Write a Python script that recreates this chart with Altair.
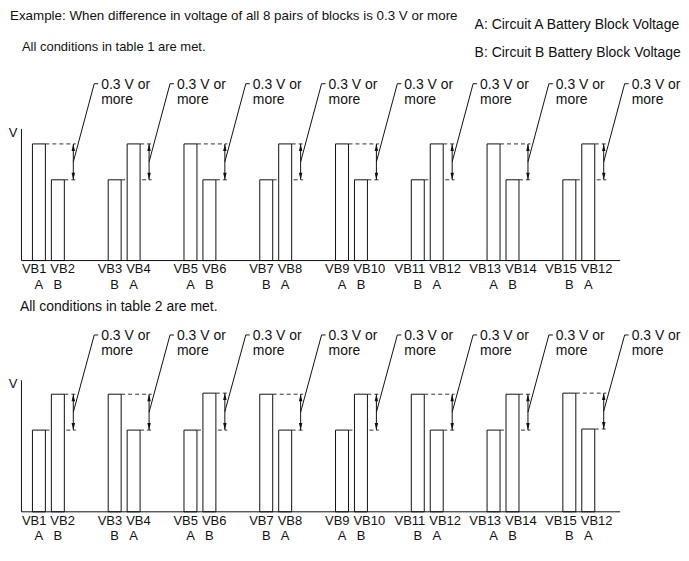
import altair as alt
import pandas as pd

# ---------------- data ----------------
FIRST_BLOCK = ["VB1", "VB3", "VB5", "VB7", "VB9", "VB11", "VB13", "VB15"]
SECOND_BLOCK = ["VB2", "VB4", "VB6", "VB8", "VB10", "VB12", "VB14", "VB12"]
FIRST_CIRCUIT = ["A", "B", "A", "B", "A", "B", "A", "B"]
SECOND_CIRCUIT = ["B", "A", "B", "A", "B", "A", "B", "A"]

# table 1: circuit A block is the higher one of every pair
T1_FIRST_V = [0.975, 0.675, 0.975, 0.675, 0.975, 0.675, 0.975, 0.675]
T1_SECOND_V = [0.675, 0.975, 0.675, 0.975, 0.675, 0.975, 0.675, 0.975]
# table 2: circuit B block is the higher one of every pair
T2_FIRST_V = [0.683, 0.983, 0.683, 0.983, 0.683, 0.983, 0.683, 0.992]
T2_SECOND_V = [0.983, 0.683, 0.992, 0.683, 0.983, 0.683, 0.983, 0.692]

TITLE = "Example: When difference in voltage of all 8 pairs of blocks is 0.3 V or more"
LEGEND_A = "A: Circuit A Battery Block Voltage"
LEGEND_B = "B: Circuit B Battery Block Voltage"
COND_1 = "All conditions in table 1 are met."
COND_2 = "All conditions in table 2 are met."
DIFF_LINES = ["0.3 V or", "more"]
Y_LABEL = "V"

# ---------------- layout constants ----------------
PITCH = 76.0          # px per pair
PX = 1.0 / PITCH      # x units per px
ORIGIN = 30.5         # page px of first pair start
W = 673
PX_PER_V = 120.0
BAR_W = 13 * PX
SECOND_OFF = 19 * PX
ARROW_OFF = 41 * PX
DASH_END = 43.5 * PX
LEAD_TOP = 62 * PX
TICK_END = 66 * PX
TEXT_OFF = 69 * PX
LEAD_Y = 1.478
DIFF_Y = [1.437, 1.312]
AXIS_X = (19.5 - ORIGIN) * PX
AXIS_END = (620 - ORIGIN) * PX
AXIS_TOP = 1.1
XDOM = [(8 - ORIGIN) * PX, (8 + W - ORIGIN) * PX]
HEAD_UP = "M0,-1L0.5,1L-0.5,1Z"
HEAD_DOWN = "M0,1L0.5,-1L-0.5,-1Z"

FONT = "Liberation Sans"
INK = "#111"


def xpx(page_x):
    return (page_x - ORIGIN) * PX


def panel(first_v, second_v, height, ytop, header, cond_text, cond_y, cond_size, cond_x):
    ybot = ytop - height / PX_PER_V
    xs = alt.Scale(domain=XDOM, nice=False, zero=False)
    ys = alt.Scale(domain=[ybot, ytop], nice=False, zero=False)
    X = lambda f="x": alt.X(f + ":Q", scale=xs, axis=None)
    Y = lambda f="y": alt.Y(f + ":Q", scale=ys, axis=None)

    bars, dashes, arrows, heads, leads, ticks, dtext, vb, circ = ([] for _ in range(9))
    for p in range(8):
        v1, v2 = first_v[p], second_v[p]
        for s, (v, blk, cir) in enumerate([(v1, FIRST_BLOCK[p], FIRST_CIRCUIT[p]),
                                            (v2, SECOND_BLOCK[p], SECOND_CIRCUIT[p])]):
            x0 = p + s * SECOND_OFF
            bars.append(dict(x=x0, x2=x0 + BAR_W, y=0, y2=v))
            dashes.append(dict(x=x0 + BAR_W, x2=p + DASH_END, y=v))
            circ.append(dict(x=x0 + BAR_W / 2, y=-0.238, t=cir))
            vb.append(dict(x=p + BAR_W + 3 * PX, y=-0.108, t=blk, side=s))
        hi, lo = max(v1, v2), min(v1, v2)
        ax = p + ARROW_OFF
        arrows.append(dict(x=ax, y=lo, y2=hi))
        heads.append(dict(x=ax, y=hi - 3.5 / PX_PER_V, shape=HEAD_UP))
        heads.append(dict(x=ax, y=lo + 3.5 / PX_PER_V, shape=HEAD_DOWN))
        leads.append(dict(x=ax, y=(hi + lo) / 2, x2=p + LEAD_TOP, y2=LEAD_Y))
        ticks.append(dict(x=p + LEAD_TOP, x2=p + TICK_END, y=LEAD_Y))
        for line, yy in zip(DIFF_LINES, DIFF_Y):
            dtext.append(dict(x=p + TEXT_OFF, y=yy, t=line))

    df = pd.DataFrame
    layers = []
    layers.append(alt.Chart(df(dashes)).mark_rule(color="#333", strokeWidth=1, strokeDash=[4, 3])
                  .encode(x=X(), x2="x2:Q", y=Y()))
    layers.append(alt.Chart(df(bars)).mark_rect(fill="white", stroke=INK, strokeWidth=1)
                  .encode(x=X(), x2="x2:Q", y=Y(), y2="y2:Q"))
    layers.append(alt.Chart(df(arrows)).mark_rule(color=INK, strokeWidth=1)
                  .encode(x=X(), y=Y(), y2="y2:Q"))
    layers.append(alt.Chart(df(heads)).mark_point(filled=True, color=INK, size=49, opacity=1,
                                                  strokeWidth=0)
                  .encode(x=X(), y=Y(), shape=alt.Shape("shape:N", scale=None, legend=None)))
    layers.append(alt.Chart(df(leads)).mark_rule(color=INK, strokeWidth=1)
                  .encode(x=X(), y=Y(), x2="x2:Q", y2="y2:Q"))
    layers.append(alt.Chart(df(ticks)).mark_rule(color=INK, strokeWidth=1)
                  .encode(x=X(), x2="x2:Q", y=Y()))
    layers.append(alt.Chart(df(dtext)).mark_text(align="left", baseline="alphabetic", font=FONT,
                                                fontSize=14, color=INK)
                  .encode(x=X(), y=Y(), text="t:N"))
    vbdf = df(vb)
    layers.append(alt.Chart(vbdf[vbdf.side == 0]).mark_text(align="right", baseline="alphabetic",
                                                           font=FONT, fontSize=13, dx=-2, color=INK)
                  .encode(x=X(), y=Y(), text="t:N"))
    layers.append(alt.Chart(vbdf[vbdf.side == 1]).mark_text(align="left", baseline="alphabetic",
                                                           font=FONT, fontSize=13, dx=2, color=INK)
                  .encode(x=X(), y=Y(), text="t:N"))
    layers.append(alt.Chart(df(circ)).mark_text(align="center", baseline="alphabetic",
                                               font=FONT, fontSize=13, color=INK)
                  .encode(x=X(), y=Y(), text="t:N"))
    # axes drawn as rules
    layers.append(alt.Chart(df([dict(x=AXIS_X, y=0, y2=AXIS_TOP)])).mark_rule(color=INK, strokeWidth=1)
                  .encode(x=X(), y=Y(), y2="y2:Q"))
    layers.append(alt.Chart(df([dict(x=AXIS_X, x2=AXIS_END, y=0)])).mark_rule(color=INK, strokeWidth=1)
                  .encode(x=X(), x2="x2:Q", y=Y()))
    layers.append(alt.Chart(df([dict(x=xpx(11), y=1.033, t=Y_LABEL)])).mark_text(
        align="center", baseline="alphabetic", font=FONT, fontSize=13, color=INK)
        .encode(x=X(), y=Y(), text="t:N"))
    # texts
    texts = [dict(x=xpx(cond_x), y=cond_y, t=cond_text, s=cond_size)]
    if header:
        texts += [dict(x=xpx(8), y=2.008, t=TITLE, s=13.4),
                  dict(x=xpx(474), y=1.933, t=LEGEND_A, s=14),
                  dict(x=xpx(474), y=1.70, t=LEGEND_B, s=14)]
    for tt in texts:
        layers.append(alt.Chart(df([tt])).mark_text(align="left", baseline="alphabetic", font=FONT,
                                                    fontSize=tt["s"], color=INK)
                      .encode(x=X(), y=Y(), text="t:N"))
    return alt.layer(*layers).properties(width=W, height=height)


# baselines placed on half pixels so 1px strokes stay crisp
top = panel(T1_FIRST_V, T1_SECOND_V, 281, 251.5 / PX_PER_V, True, COND_1, 1.75, 13, 20)
bottom = panel(T2_FIRST_V, T2_SECOND_V, 264, 222.5 / PX_PER_V, False, COND_2, 1.675, 14, 18)

chart = (alt.vconcat(top, bottom, spacing=0, bounds="flush")
         .properties(padding=0, background="white")
         .configure_view(stroke=None))

chart.save("out.html", embed_options={"renderer": "svg", "actions": False})
